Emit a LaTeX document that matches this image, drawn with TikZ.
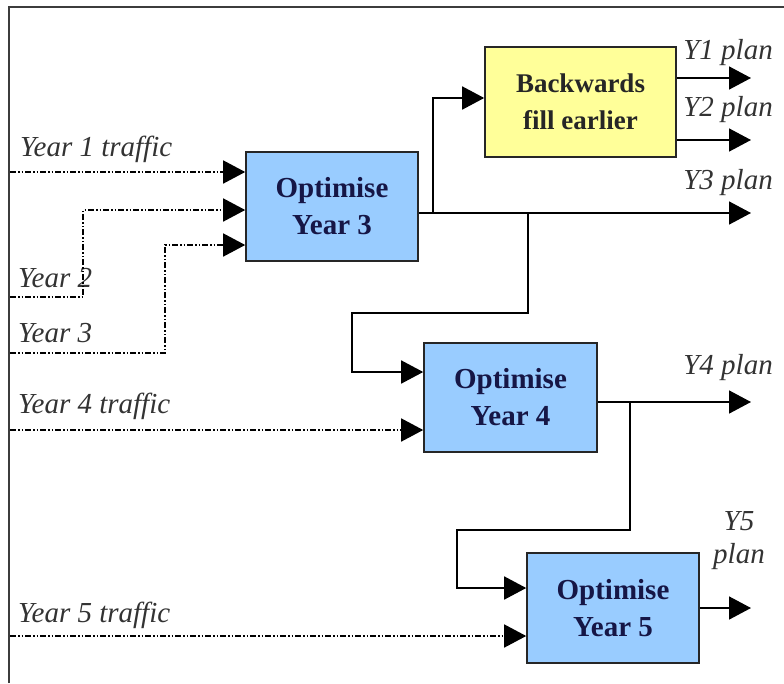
\documentclass[tikz,border=0pt]{standalone}
\usepackage{fontspec}
\setmainfont{Liberation Serif}
\usetikzlibrary{arrows.meta,calc}
\definecolor{boxblue}{RGB}{153,204,255}
\definecolor{boxyellow}{RGB}{255,255,153}
\definecolor{navy}{RGB}{22,22,70}
\definecolor{framegray}{RGB}{60,60,60}
\tikzset{
  proc/.style={draw=black!85, line width=1.6pt, minimum width=#1, inner sep=0pt, align=center,
    font=\fontsize{29}{37}\selectfont\bfseries, text=navy, fill=boxblue},
  backbox/.style={draw=black!85, line width=1.6pt, inner sep=0pt, align=center,
    font=\fontsize{27}{37}\selectfont\bfseries, text=black!85, fill=boxyellow},
  lbl/.style={inner sep=0pt, font=\fontsize{29}{33}\selectfont\itshape, text=black!80},
  flow/.style={line width=1.6pt, -{Triangle[length=22pt,width=23pt]}},
  traffic/.style={line width=1.5pt, dash pattern=on 6pt off 2pt on 1.5pt off 2pt on 1.5pt off 2pt,
    -{Triangle[length=22pt,width=23pt]}},
  frameline/.style={line width=2pt, draw=framegray}
}
\begin{document}
\begin{tikzpicture}[x=1pt,y=-1pt]
\useasboundingbox (0,0) rectangle (784,683);
\fill[white] (0,0) rectangle (784,683);
% frame
\draw[frameline] (9,683) -- (9,7) -- (784,7);

% boxes
\node[proc=172pt, minimum height=109pt] (opt3) at (332,206.5) {Optimise\\Year 3};
\node[backbox, minimum width=191pt, minimum height=110pt] (back) at (580.5,102) {Backwards\\fill earlier};
\node[proc=173pt, minimum height=109pt] (opt4) at (510.5,397.5) {Optimise\\Year 4};
\node[proc=172pt, minimum height=110pt] (opt5) at (613,608) {Optimise\\Year 5};

% labels
\node[lbl, anchor=base west] (l1) at (20,156) {Year 1 traffic};
\node[lbl, anchor=base west] (l2) at (18,287) {Year 2};
\node[lbl, anchor=base west] (l3) at (18,342) {Year 3};
\node[lbl, anchor=base west] (l4) at (18,413) {Year 4 traffic};
\node[lbl, anchor=base west] (l5) at (18,622) {Year 5 traffic};
\node[lbl, anchor=base east] (p1) at (773,59) {Y1 plan};
\node[lbl, anchor=base east] (p2) at (773,116) {Y2 plan};
\node[lbl, anchor=base east] (p3) at (773,189) {Y3 plan};
\node[lbl, anchor=base east] (p4) at (773,374) {Y4 plan};
\node[lbl, align=center] (p5) at (739,541) {Y5\\plan};

% coordinates
\coordinate (y1s) at (10,172);
\coordinate (y2s) at (10,297);
\coordinate (y2k) at (83,210);
\coordinate (y3s) at (10,353);
\coordinate (y3k) at (165,245);
\coordinate (y4s) at (10,430);
\coordinate (y5s) at (10,636);
\coordinate (e1) at (751,78);
\coordinate (e2) at (751,140);
\coordinate (e3) at (751,213);
\coordinate (e4) at (751,402);
\coordinate (e5) at (751,608);
\coordinate (j1) at (433,213);
\coordinate (j2) at (528,213);
\coordinate (j3) at (630,402);

% traffic inputs
\draw[traffic] (y1s) -- (y1s -| opt3.west);
\draw[traffic] (y2s) -| (y2k) -- (y2k -| opt3.west);
\draw[traffic] (y3s) -| (y3k) -- (y3k -| opt3.west);
\draw[traffic] (y4s) -- (y4s -| opt4.west);
\draw[traffic] (y5s) -- (y5s -| opt5.west);

% outputs
\draw[flow] (opt3.east |- e3) -- (e3);
\draw[flow] (j1) |- ($(back.west)+(0,-4)$);
\draw[flow] (j2) -- ++(0,100) -- ++(-176,0) |- ($(opt4.west)+(0,-25.5)$);
\draw[flow] (back.east |- e1) -- (e1);
\draw[flow] (back.east |- e2) -- (e2);
\draw[flow] (opt4.east |- e4) -- (e4);
\draw[flow] (j3) -- ++(0,128) -- ++(-173,0) |- ($(opt5.west)+(0,-20)$);
\draw[flow] (opt5.east |- e5) -- (e5);
\end{tikzpicture}
\end{document}
